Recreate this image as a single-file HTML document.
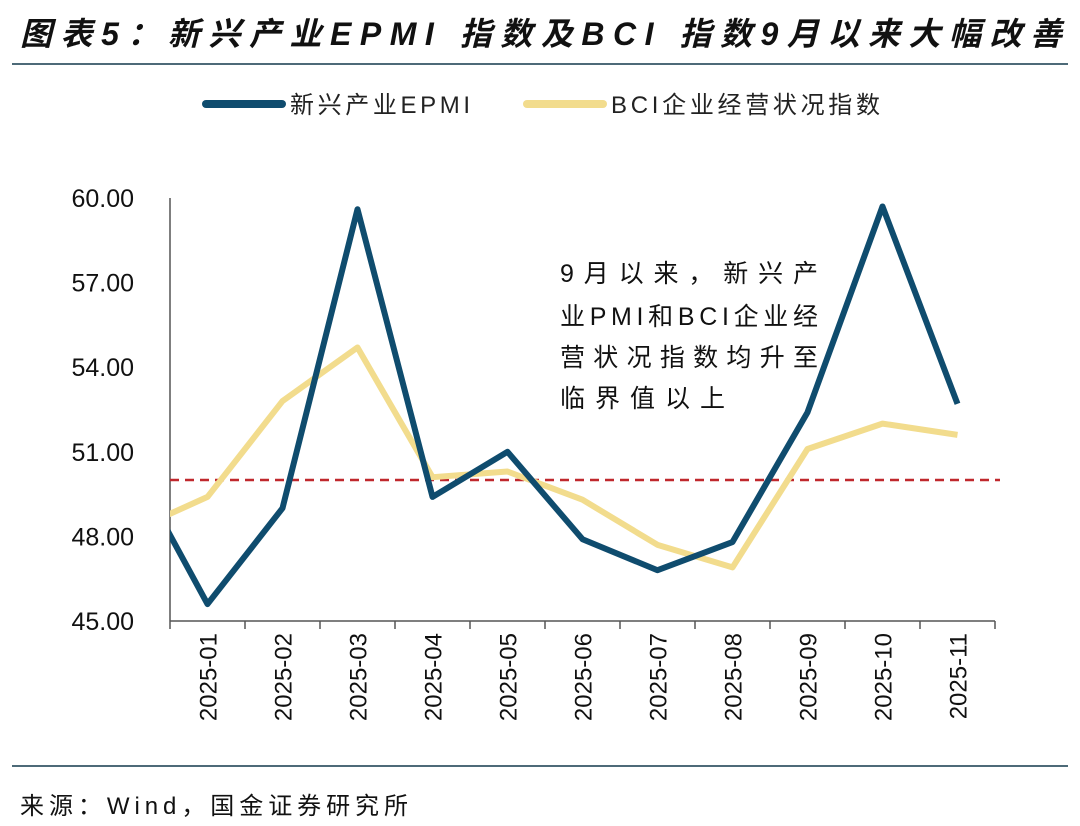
<!DOCTYPE html>
<html><head><meta charset="utf-8">
<style>
body{margin:0;background:#fff;width:1080px;height:821px;overflow:hidden;font-family:"Liberation Sans","Noto Sans CJK SC",sans-serif;}
svg text{font-family:"Liberation Sans","Noto Sans CJK SC",sans-serif;}
</style></head>
<body>
<svg width="1080" height="821">
<text x="20" y="45" font-size="32" font-weight="bold" font-style="italic" fill="#111" textLength="1042" lengthAdjust="spacing">图表5：新兴产业EPMI 指数及BCI 指数9月以来大幅改善</text>
<line x1="12" y1="64" x2="1068" y2="64" stroke="#4d6a78" stroke-width="2"/>
<g>
<line x1="206" y1="104" x2="282" y2="104" stroke="#0f4c6e" stroke-width="8" stroke-linecap="round"/>
<text x="290" y="113" font-size="24" fill="#222" textLength="180" lengthAdjust="spacing">新兴产业EPMI</text>
<line x1="527" y1="104" x2="603" y2="104" stroke="#f2dc8d" stroke-width="8" stroke-linecap="round"/>
<text x="611" y="113" font-size="24" fill="#222" textLength="269" lengthAdjust="spacing">BCI企业经营状况指数</text>
</g>
<g id="plot"></g>
<g font-size="25" fill="#111">
<text x="560" y="282" textLength="258" lengthAdjust="spacing">9月以来，新兴产</text>
<text x="560" y="325" textLength="258" lengthAdjust="spacing">业PMI和BCI企业经</text>
<text x="560" y="366" textLength="258" lengthAdjust="spacing">营状况指数均升至</text>
<text x="560" y="407" textLength="165" lengthAdjust="spacing">临界值以上</text>
</g>
<line x1="12" y1="766" x2="1068" y2="766" stroke="#4d6a78" stroke-width="2"/>
<text x="20" y="814" font-size="24" fill="#111" textLength="388" lengthAdjust="spacing">来源：Wind，国金证券研究所</text>
</svg>
<script>
const categories=["2025-01","2025-02","2025-03","2025-04","2025-05","2025-06","2025-07","2025-08","2025-09","2025-10","2025-11"];
const epmi=[45.6,49.0,59.6,49.4,51.0,47.9,46.8,47.8,52.4,59.7,52.7];
const bci=[49.4,52.8,54.7,50.1,50.3,49.3,47.7,46.9,51.1,52.0,51.6];
const epmiPrev=50.5;
const bciPrev=48.2;
const yTicks=[45,48,51,54,57,60];
const refValue=50;
const NS="http://www.w3.org/2000/svg";
const L=170,R=995,T=198,B=621,ymin=45,ymax=60;
const step=(R-L)/categories.length;
const x=i=>L+step*(i+0.5);
const y=v=>B-(v-ymin)/(ymax-ymin)*(B-T);
const g=document.getElementById('plot');
function mk(t,a){const e=document.createElementNS(NS,t);for(const k in a)e.setAttribute(k,a[k]);g.appendChild(e);return e;}
const defs=mk('defs',{});
const cp=document.createElementNS(NS,'clipPath');cp.setAttribute('id','clip');
const cr=document.createElementNS(NS,'rect');cr.setAttribute('x',L);cr.setAttribute('y',0);cr.setAttribute('width',R-L+20);cr.setAttribute('height',821);
cp.appendChild(cr);defs.appendChild(cp);
yTicks.forEach(v=>{
const t=mk('text',{x:L-36,y:y(v)+9,'font-size':25,fill:'#111','text-anchor':'end'});
t.textContent=v.toFixed(2);


});
const ya=mk('line',{x1:L,y1:T,x2:L,y2:B,stroke:'#555','stroke-width':1.5});


const xa=mk('line',{x1:L,y1:B,x2:R,y2:B,stroke:'#555','stroke-width':1.5});


for(let i=0;i<=categories.length;i++){
const tk=mk('line',{x1:L+step*i,y1:B,x2:L+step*i,y2:B+8,stroke:'#555','stroke-width':1.5});


}
categories.forEach((c,i)=>{
const t=mk('text',{x:0,y:0,'font-size':24,fill:'#111','text-anchor':'end',transform:`translate(${x(i)+9},${B+12}) rotate(-90)`});
t.textContent=c;


});
const ref=mk('line',{x1:L,y1:y(refValue),x2:1000,y2:y(refValue),stroke:'#c0282d','stroke-width':2.5,'stroke-dasharray':'9,6'});


function series(vals,prev,color,name){
const pts=[[x(-1),y(prev)]].concat(vals.map((v,i)=>[x(i),y(v)]));
const p=mk('polyline',{points:pts.map(p=>p.join(',')).join(' '),fill:'none',stroke:color,'stroke-width':6,'stroke-linejoin':'round','clip-path':'url(#clip)'});


}
series(bci,bciPrev,'#f2dc8d','bci-line');
series(epmi,epmiPrev,'#0f4c6e','epmi-line');
</script>
</body></html>
